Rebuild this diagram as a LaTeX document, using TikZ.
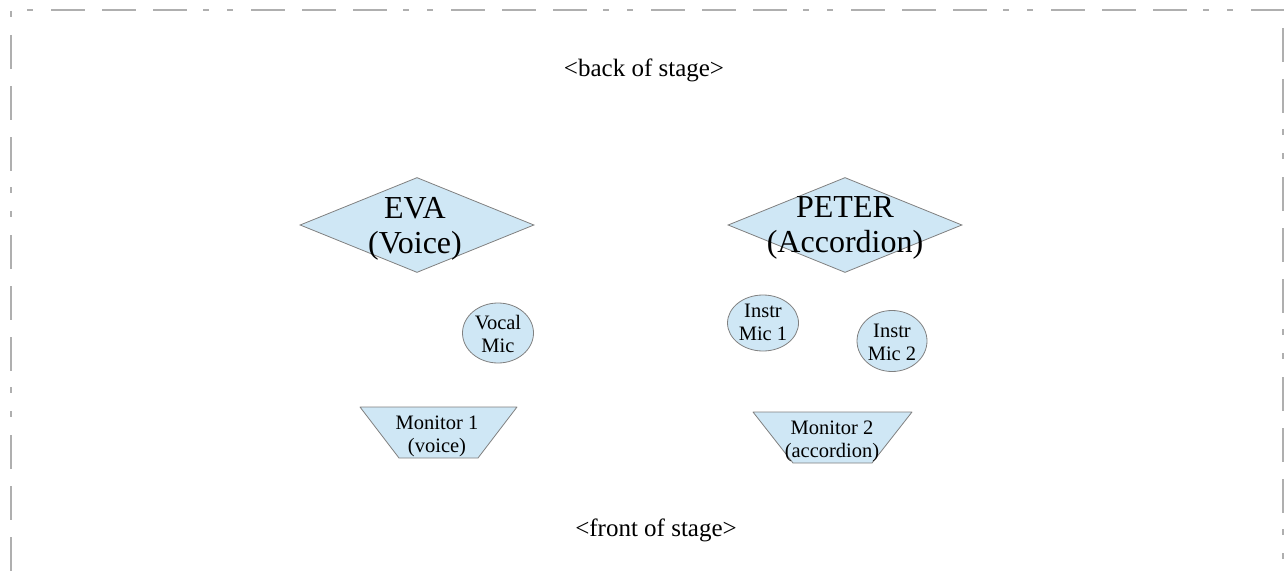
\documentclass[tikz,border=0pt]{standalone}
\usepackage{fontspec}
\setmainfont{Liberation Serif}
\usetikzlibrary{shapes.geometric}
\definecolor{stagefill}{RGB}{207,231,245}
\definecolor{stageline}{RGB}{175,175,175}

\tikzset{
  edgeline/.style={draw=stageline, line width=1.5pt,
    dash pattern=on 34pt off 17pt on 34pt off 17pt on 34pt off 16pt on 6pt off 18pt on 6pt off 18pt},
  player/.style={diamond, draw=gray, fill=stagefill, line width=0.8pt, inner sep=0pt,
    minimum width=234pt, minimum height=95pt},
  mic/.style={ellipse, draw=gray, fill=stagefill, line width=0.8pt, inner sep=0pt},
  monitor/.style={draw=gray, fill=stagefill, line width=0.8pt, line join=round},
  bigtxt/.style={align=center, inner sep=0pt, font=\fontsize{32}{35}\selectfont},
  smalltxt/.style={align=center, inner sep=0pt, font=\fontsize{20.5}{23}\selectfont},
  notetxt/.style={anchor=base, inner sep=0pt, font=\fontsize{25}{30}\selectfont}
}

\begin{document}
\begin{tikzpicture}[x=1pt,y=-1pt]
  \useasboundingbox (0,0) rectangle (1284,575);

  % stage border
  \coordinate (tl) at (11,10);
  \coordinate (tr) at (1283,10);
  \coordinate (bl) at (11,575);
  \coordinate (br) at (1283,575);
  \draw[edgeline, dash phase=160pt] (tl) -- (1284,10);
  \draw[edgeline, dash phase=175pt] (tl) -- (bl);
  \draw[edgeline, dash phase=33pt] (tr) -- (br);

  \node[notetxt] (back) at (644,77) {<back of stage>};
  \node[notetxt] (front) at (656,536) {<front of stage>};

  % performers
  \node[player] (eva) at (417,225) {};
  \node[bigtxt] (evatxt) at (415,229) {EVA\\(Voice)};
  \node[player] (peter) at (845,225) {};
  \node[bigtxt] (petertxt) at (845,228) {PETER\\(Accordion)};

  % microphones
  \node[mic, minimum width=71pt, minimum height=60pt] (vocal) at (498,333) {};
  \node[smalltxt] (vocaltxt) at (498,334) {Vocal\\Mic};
  \node[mic, minimum width=71pt, minimum height=56pt] (instr1) at (763,323) {};
  \node[smalltxt] (instr1txt) at (763,322) {Instr\\Mic 1};
  \node[mic, minimum width=70pt, minimum height=61pt] (instr2) at (892,341) {};
  \node[smalltxt] (instr2txt) at (892,342) {Instr\\Mic 2};

  % monitors
  \coordinate (mon1) at (438.5,432.5);
  \draw[monitor, shift={(mon1)}] (-78.5,-25.5) -- (78.5,-25.5) -- (39.5,25.5) -- (-39.5,25.5) -- cycle;
  \node[smalltxt] (mon1txt) at (437,436) {Monitor 1\\(voice)};
  \coordinate (mon2) at (832.5,437.5);
  \draw[monitor, shift={(mon2)}] (-79.5,-25.5) -- (79.5,-25.5) -- (39.5,25.5) -- (-39.5,25.5) -- cycle;
  \node[smalltxt] (mon2txt) at (832,441) {Monitor 2\\(accordion)};
\end{tikzpicture}
\end{document}
